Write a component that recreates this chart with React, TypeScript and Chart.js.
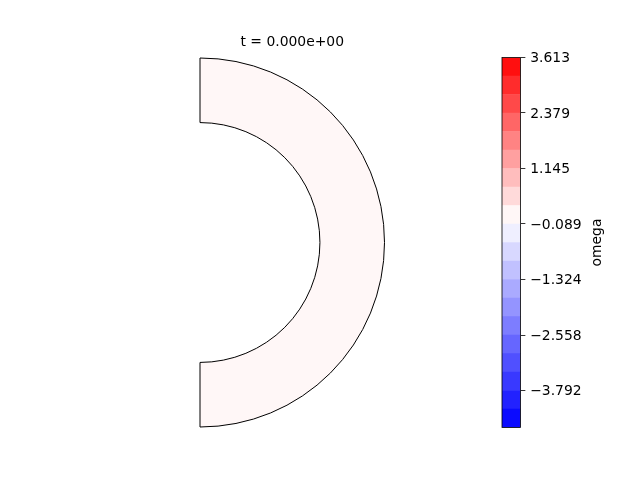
import React, { useEffect, useRef } from "react";
import { Chart, registerables } from "chart.js";

Chart.register(...registerables);

// ---- data ----
const titleText = "t = 0.000e+00";
const colorbarLabel = "omega";
const radii = [0.65, 1.0]; // inner, outer radius of the half annulus
const omegaValues = [0]; // uniform omega field at t = 0
const levels = [
  -4.614, -4.203, -3.792, -3.381, -2.97, -2.558, -2.147, -1.736, -1.324, -0.913,
  -0.501, -0.089, 0.322, 0.733, 1.145, 1.556, 1.967, 2.379, 2.79, 3.201, 3.613,
];
const tickValues = [-3.792, -2.558, -1.324, -0.089, 1.145, 2.379, 3.613];
const tickLabels = ["\u22123.792", "\u22122.558", "\u22121.324", "\u22120.089", "1.145", "2.379", "3.613"];

const FONT = "DejaVu Sans";
const FONT_SIZE = 13.9;

// bwr colormap with a two-slope norm centred on 0
function bwr(v: number, vmin: number, vmax: number): string {
  const t = v >= 0 ? 0.5 + (0.5 * v) / vmax : 0.5 - (0.5 * v) / vmin;
  let r: number, g: number, b: number;
  if (t < 0.5) {
    r = g = 2 * t;
    b = 1;
  } else {
    r = 1;
    g = b = 2 * (1 - t);
  }
  const c = (x: number) => Math.round(Math.max(0, Math.min(1, x)) * 255);
  return `rgb(${c(r)},${c(g)},${c(b)})`;
}

function bandColor(i: number): string {
  const mid = (levels[i] + levels[i + 1]) / 2;
  return bwr(mid, levels[0], levels[levels.length - 1]);
}

function colorForValue(v: number): string {
  let i = 0;
  while (i < levels.length - 2 && v >= levels[i + 1]) i++;
  return bandColor(i);
}

export default function App() {
  const mainRef = useRef<HTMLCanvasElement | null>(null);
  const cbRef = useRef<HTMLCanvasElement | null>(null);

  useEffect(() => {
    if (!mainRef.current || !cbRef.current) return;

    const main = new Chart(mainRef.current, {
      type: "doughnut",
      data: {
        labels: [colorbarLabel],
        datasets: [
          {
            data: [1],
            backgroundColor: colorForValue(omegaValues[0]),
            borderColor: "#000",
            borderWidth: 1,
            hoverBorderWidth: 1,
            hoverOffset: 0,
            offset: 0,
            borderAlign: "center",
          } as any,
        ],
      },
      options: {
        responsive: false,
        animation: false,
        events: [],
        rotation: 0,
        circumference: 180,
        cutout: `${(radii[0] / radii[1]) * 100}%`,
        layout: { padding: { left: 199.5, right: 255, top: 0, bottom: 52.5 } },
        plugins: {
          legend: { display: false },
          tooltip: { enabled: false },
          title: {
            display: true,
            text: titleText,
            color: "#000",
            font: { family: FONT, size: FONT_SIZE, weight: "normal" },
            padding: { top: 33.66, bottom: 7.16 },
          },
        },
      } as any,
    });

    const framePlugin = {
      id: "cbFrame",
      afterDraw(chart: any) {
        const { ctx, chartArea } = chart;
        ctx.save();
        ctx.strokeStyle = "#000";
        ctx.lineWidth = 0.8;
        ctx.strokeRect(chartArea.left, chartArea.top, chartArea.right - chartArea.left, chartArea.bottom - chartArea.top);
        const ys = chart.scales.y;
        ctx.fillStyle = "#000";
        ctx.font = `${FONT_SIZE}px "${FONT}"`;
        ctx.translate(ys.right, (chartArea.top + chartArea.bottom) / 2);
        ctx.rotate(-Math.PI / 2);
        ctx.textAlign = "center";
        ctx.textBaseline = "alphabetic";
        ctx.fillText(colorbarLabel, 0, 0);
        ctx.restore();
      },
    };

    const cb = new Chart(cbRef.current, {
      type: "bar",
      data: {
        labels: [""],
        datasets: levels.slice(0, -1).map((lo, i) => ({
          data: [[lo, levels[i + 1]]],
          backgroundColor: bandColor(i),
          borderColor: bandColor(i),
          borderWidth: 0,
          barPercentage: 1,
          categoryPercentage: 1,
          grouped: false,
        })) as any,
      },
      options: {
        responsive: false,
        animation: false,
        events: [],
        layout: { padding: { left: 502, right: 640 - 520.5 - 80, top: 57.5, bottom: 52.5 } },
        scales: {
          x: { display: false },
          y: {
            position: "right",
            min: levels[0],
            max: levels[levels.length - 1],
            afterBuildTicks: (s: any) => {
              s.ticks = tickValues.map((v) => ({ value: v }));
            },
            afterFit: (s: any) => {
              s.width = 80;
            },
            ticks: {
              autoSkip: false,
              color: "#000",
              padding: 4.86,
              labelOffset: 1,
              font: { family: FONT, size: FONT_SIZE },
              callback: (v: any) => {
                const idx = tickValues.findIndex((t) => Math.abs(t - Number(v)) < 1e-6);
                return idx >= 0 ? tickLabels[idx] : "";
              },
            },
            grid: {
              display: true,
              drawOnChartArea: false,
              drawTicks: true,
              tickLength: 4.86,
              color: "#000",
              lineWidth: 0.8,
            },
            border: { display: false },
          },
        },
        plugins: {
          legend: { display: false },
          tooltip: { enabled: false },
          title: { display: false },
        },
      } as any,
      plugins: [framePlugin],
    });

    return () => {
      main.destroy();
      cb.destroy();
    };
  }, []);

  return (
    <div style={{ position: "fixed", left: 0, top: 0, width: 640, height: 480, background: "#fff" }}>
      <canvas ref={mainRef} width={640} height={480} style={{ position: "absolute", left: 0, top: 0, width: 640, height: 480 }} />
      <canvas ref={cbRef} width={640} height={480} style={{ position: "absolute", left: 0, top: 0, width: 640, height: 480 }} />
    </div>
  );
}
